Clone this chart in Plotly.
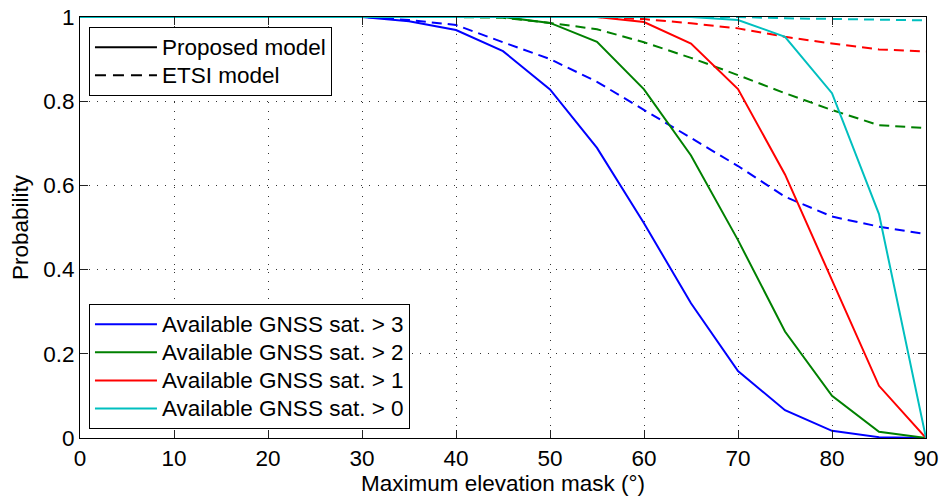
import plotly.graph_objects as go

elev = [0, 5, 10, 15, 20, 25, 30, 35, 40, 45, 50, 55, 60, 65, 70, 75, 80, 85, 90]

# Proposed model (solid)
prop_gt3 = [1, 1, 1, 1, 1, 1, 1.0, 0.99, 0.969, 0.919, 0.828, 0.689, 0.51, 0.32, 0.159, 0.066, 0.017, 0.002, 0]
prop_gt2 = [1, 1, 1, 1, 1, 1, 1, 1, 1, 1.0, 0.986, 0.941, 0.828, 0.671, 0.47, 0.253, 0.1, 0.015, 0]
prop_gt1 = [1, 1, 1, 1, 1, 1, 1, 1, 1, 1, 1, 1.0, 0.988, 0.937, 0.829, 0.626, 0.375, 0.124, 0]
prop_gt0 = [1, 1, 1, 1, 1, 1, 1, 1, 1, 1, 1, 1, 1, 1.0, 0.993, 0.953, 0.819, 0.532, 0]

# ETSI model (dashed)
etsi_gt3 = [1, 1, 1, 1, 1, 1, 1.0, 0.993, 0.981, 0.94, 0.90, 0.846, 0.779, 0.713, 0.646, 0.573, 0.526, 0.502, 0.484]
etsi_gt2 = [1, 1, 1, 1, 1, 1, 1, 1, 1.0, 0.998, 0.986, 0.971, 0.94, 0.903, 0.862, 0.819, 0.779, 0.743, 0.736]
etsi_gt1 = [1, 1, 1, 1, 1, 1, 1, 1, 1, 1, 1, 1.0, 0.995, 0.985, 0.973, 0.953, 0.937, 0.923, 0.918]
etsi_gt0 = [1, 1, 1, 1, 1, 1, 1, 1, 1, 1, 1, 1, 1, 1.0, 1.0, 0.997, 0.995, 0.993, 0.992]

series_names = ["Available GNSS sat. > 3", "Available GNSS sat. > 2",
                "Available GNSS sat. > 1", "Available GNSS sat. > 0"]
model_names = ["Proposed model", "ETSI model"]
colors = ["#0000FF", "#008000", "#FF0000", "#00BFBF"]
prop = [prop_gt3, prop_gt2, prop_gt1, prop_gt0]
etsi = [etsi_gt3, etsi_gt2, etsi_gt1, etsi_gt0]

x_ticks = [0, 10, 20, 30, 40, 50, 60, 70, 80, 90]
y_ticks = [0, 0.2, 0.4, 0.6, 0.8, 1]
y_tick_labels = ["0", "0.2", "0.4", "0.6", "0.8", "1"]

FONT = "Liberation Sans, Arial, Helvetica, sans-serif"
FS = 22.5
LEG_FS = 19.3   # controls legend row spacing
DASH = "10px,6px"


def big(s):
    return '<span style="font-size:%.1fpx">%s</span>' % (FS, s)


fig = go.Figure()

for i in range(4):
    fig.add_trace(go.Scatter(x=elev, y=etsi[i], mode="lines",
                             line=dict(color=colors[i], width=2, dash=DASH),
                             showlegend=False, hoverinfo="skip"))
for i in range(4):
    fig.add_trace(go.Scatter(x=elev, y=prop[i], mode="lines",
                             line=dict(color=colors[i], width=2),
                             showlegend=False, hoverinfo="skip"))

# Legend 1: model type
fig.add_trace(go.Scatter(x=[None], y=[None], mode="lines", name=big(model_names[0]),
                         line=dict(color="black", width=2), legend="legend"))
fig.add_trace(go.Scatter(x=[None], y=[None], mode="lines", name=big(model_names[1]),
                         line=dict(color="black", width=2, dash="11px,7px"), legend="legend"))
# Legend 2: satellites
for i in range(4):
    fig.add_trace(go.Scatter(x=[None], y=[None], mode="lines", name=big(series_names[i]),
                             line=dict(color=colors[i], width=2), legend="legend2"))

axis_common = dict(
    showline=True, linecolor="black", linewidth=1, mirror="ticks",
    ticks="inside", ticklen=8, tickcolor="#222222", tickwidth=1,
    showgrid=True, gridcolor="#333333", griddash="1px,7.5px", gridwidth=1,
    zeroline=False, automargin=False,
    tickfont=dict(family=FONT, size=FS, color="black"),
)

fig.update_layout(
    width=941, height=499,
    margin=dict(l=80, r=15, t=17, b=61),
    paper_bgcolor="white", plot_bgcolor="white",
    font=dict(family=FONT, size=FS, color="black"),
    xaxis=dict(range=[0, 90], tickvals=x_ticks,
               title=dict(text="Maximum elevation mask (°)", font=dict(size=FS), standoff=2),
               **axis_common),
    yaxis=dict(range=[0, 1], tickvals=y_ticks, ticktext=y_tick_labels,
               title=dict(text="Probability", font=dict(size=FS), standoff=8),
               **axis_common),
    legend=dict(x=0.0106, y=0.976, xanchor="left", yanchor="top",
                bgcolor="white", bordercolor="black", borderwidth=1,
                font=dict(family=FONT, size=LEG_FS), itemwidth=62, tracegroupgap=0),
    legend2=dict(x=0.0106, y=0.021, xanchor="left", yanchor="bottom",
                 bgcolor="white", bordercolor="black", borderwidth=1,
                 font=dict(family=FONT, size=LEG_FS), itemwidth=62, tracegroupgap=0),
)

fig.write_html("out.html")
